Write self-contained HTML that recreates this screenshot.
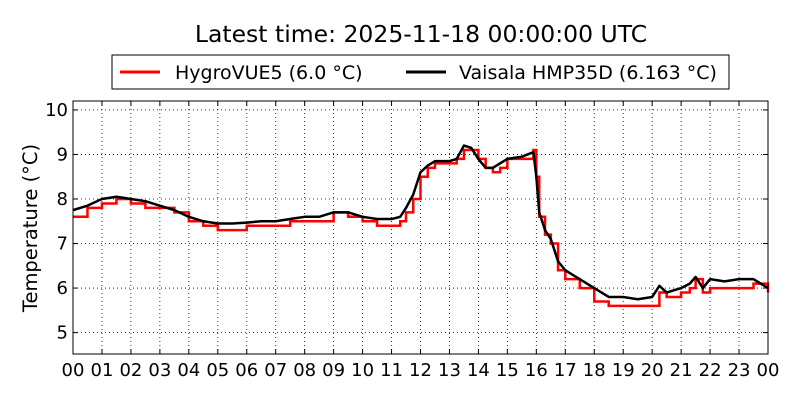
<!DOCTYPE html>
<html><head><meta charset="utf-8"><style>
body{margin:0;background:#fff;}
svg{font-family:"DejaVu Sans","Liberation Sans",sans-serif;}
</style></head><body>
<svg id="c" width="800" height="400">
<text x="421" y="42" font-size="23.5" text-anchor="middle">Latest time: 2025-11-18 00:00:00 UTC</text>
<g>
<rect x="112" y="55" width="617" height="34" fill="#fff" stroke="#000" stroke-width="1"/>
<line x1="120" y1="72" x2="160" y2="72" stroke="#f00" stroke-width="3"/>
<text x="175" y="79" font-size="19">HygroVUE5 (6.0 °C)</text>
<line x1="406" y1="72" x2="446" y2="72" stroke="#000" stroke-width="3"/>
<text x="459" y="79" font-size="19">Vaisala HMP35D (6.163 °C)</text>
</g>
<text transform="translate(37,228) rotate(-90)" font-size="19.5" text-anchor="middle">Temperature (°C)</text>
<g id="grid"></g><g id="series"></g><g id="axes"></g>
</svg>
<script>
const yTicks=[5,6,7,8,9,10];
const xTickLabels=["00","01","02","03","04","05","06","07","08","09","10","11","12","13","14","15","16","17","18","19","20","21","22","23","00"];
const times=[0,0.5,1,1.5,2,2.5,3,3.5,4,4.5,5,5.5,6,6.5,7,7.5,8,8.5,9,9.5,10,10.5,11,11.3,11.5,11.75,12,12.25,12.5,12.75,13,13.25,13.5,13.75,14,14.25,14.5,14.75,15,15.5,15.9,16,16.1,16.3,16.5,16.75,17,17.5,18,18.5,19,19.5,20,20.25,20.5,21,21.3,21.5,21.75,22,22.5,23,23.5,24];
const vaisala=[7.75,7.85,8.0,8.05,8.0,7.95,7.85,7.75,7.6,7.5,7.45,7.45,7.47,7.5,7.5,7.55,7.6,7.6,7.7,7.7,7.6,7.55,7.55,7.6,7.8,8.1,8.6,8.75,8.85,8.85,8.85,8.9,9.2,9.15,8.9,8.7,8.7,8.8,8.9,8.95,9.05,8.5,7.7,7.3,7.1,6.6,6.4,6.2,6.0,5.8,5.8,5.75,5.8,6.05,5.9,6.0,6.1,6.25,6.0,6.2,6.15,6.2,6.2,6.0];
const hygrovue=[7.6,7.8,7.9,8.0,7.9,7.8,7.8,7.7,7.5,7.4,7.3,7.3,7.4,7.4,7.4,7.5,7.5,7.5,7.7,7.6,7.5,7.4,7.4,7.5,7.7,8.0,8.5,8.7,8.8,8.8,8.8,8.9,9.1,9.1,8.9,8.7,8.6,8.7,8.9,8.9,9.1,8.5,7.6,7.2,7.0,6.4,6.2,6.0,5.7,5.6,5.6,5.6,5.6,5.9,5.8,5.9,6.0,6.2,5.9,6.0,6.0,6.0,6.1,5.9];
const X0=73,X1=768,Y0=101,Y1=354,yMin=4.52,yMax=10.2;
const xs=h=>X0+(X1-X0)*h/24;
const ys=v=>Y1-(Y1-Y0)*(v-yMin)/(yMax-yMin);
const NS="http://www.w3.org/2000/svg";
function mk(t,a,p){const e=document.createElementNS(NS,t);for(const k in a)e.setAttribute(k,a[k]);p.appendChild(e);return e;}
const grid=document.getElementById('grid'),axes=document.getElementById('axes'),ser=document.getElementById('series');
yTicks.forEach(v=>{const y=ys(v);
 const g=mk('line',{x1:X0,x2:X1,y1:y,y2:y,stroke:'#000','stroke-dasharray':'1,3','stroke-width':0.8},grid);
 
 
 mk('line',{x1:X0,x2:X0+5,y1:y,y2:y,stroke:'#000'},axes);
 mk('line',{x1:X1,x2:X1-5,y1:y,y2:y,stroke:'#000'},axes);
 const t=mk('text',{x:X0-5,y:y+6,'font-size':18,'text-anchor':'end'},axes);t.textContent=v;
 
 
});
xTickLabels.forEach((l,i)=>{const x=xs(i);
 if(i>0&&i<24){const g=mk('line',{x1:x,x2:x,y1:Y0,y2:Y1,stroke:'#000','stroke-dasharray':'1,3','stroke-width':0.8},grid);
 
 }
 mk('line',{x1:x,x2:x,y1:Y1,y2:Y1-5,stroke:'#000'},axes);
 mk('line',{x1:x,x2:x,y1:Y0,y2:Y0+5,stroke:'#000'},axes);
 const t=mk('text',{x:x,y:Y1+22,'font-size':18,'text-anchor':'middle'},axes);t.textContent=l;
 
 
});
const fr=mk('rect',{x:X0,y:Y0,width:X1-X0,height:Y1-Y0,fill:'none',stroke:'#000','stroke-width':1},axes);


let dr='';times.forEach((t,i)=>{const x=xs(t),y=ys(hygrovue[i]);if(i==0)dr='M'+x+' '+y;else dr+=' H'+x+' V'+y;});
const pr=mk('path',{d:dr,fill:'none',stroke:'#f00','stroke-width':2.5},ser);


const db=times.map((t,i)=>(i?'L':'M')+xs(t)+' '+ys(vaisala[i])).join(' ');
const pb=mk('path',{d:db,fill:'none',stroke:'#000','stroke-width':2.5,'stroke-linejoin':'round'},ser);


</script>
</body></html>
